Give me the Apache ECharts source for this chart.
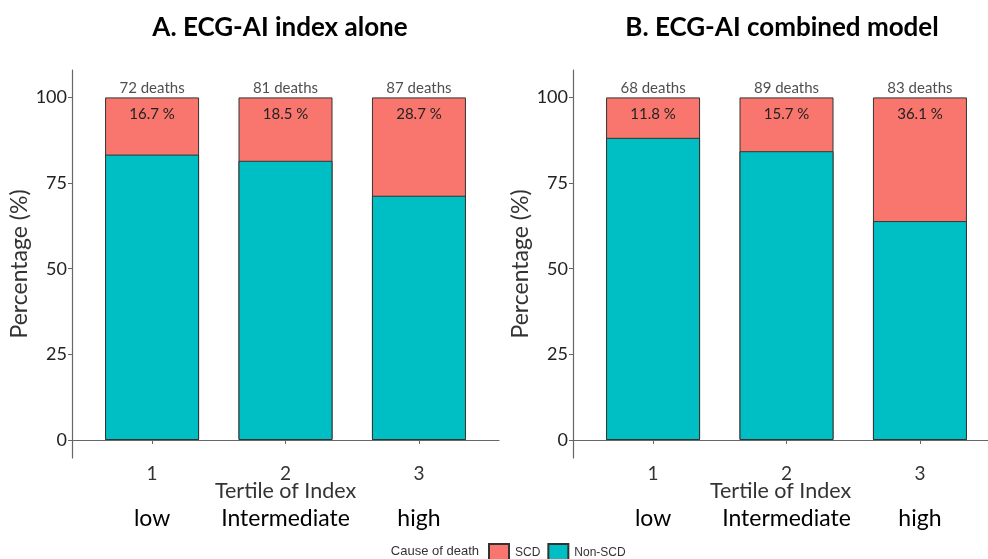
<!DOCTYPE html>
<html><head><meta charset="utf-8">
<script src="https://cdn.jsdelivr.net/npm/echarts@6/dist/echarts.min.js"></script>
<style>html,body{margin:0;padding:0;background:#fff}#c{width:988px;height:559px}</style>
</head><body><div id="c"></div>
<script>
const tertiles = [1, 2, 3];
const tierNames = ['low', 'Intermediate', 'high'];
const yTicks = [0, 25, 50, 75, 100];
const panelTitles = ['A. ECG-AI index alone', 'B. ECG-AI combined model'];
const scdA = [16.7, 18.5, 28.7];
const nonScdA = [83.3, 81.5, 71.3];
const deathsA = [72, 81, 87];
const scdB = [11.8, 15.7, 36.1];
const nonScdB = [88.2, 84.3, 63.9];
const deathsB = [68, 89, 83];

const FONT = 'Lato';
const RED = '#F8766D', TEAL = '#00BFC4';

function xy(vals) { return tertiles.map((t, i) => [t, vals[i]]); }

// right panel is cut by the page edge: its x range ends where the page ends
const panels = [
  { left: 72, width: 427, xmax: 3.6 },
  { left: 573, width: 415, xmax: 3.51 }
];
const grids = panels.map(pn => ({ left: pn.left, top: 70, width: pn.width, height: 388 }));

const xAxes = [], yAxes = [], series = [];
[[scdA, nonScdA, deathsA], [scdB, nonScdB, deathsB]].forEach((p, g) => {
  const scd = p[0], non = p[1], deaths = p[2];
  const total = scd.map((v, i) => v + non[i]);
  const xmax = panels[g].xmax;
  xAxes.push({
    type: 'value', gridIndex: g, min: 0.4, max: xmax, position: 'bottom',
    name: 'Tertile of Index', nameLocation: 'middle', nameGap: 22, nameMoveOverlap: false,
    nameTextStyle: { fontFamily: FONT, fontSize: 21.5, color: '#333' },
    axisLine: { show: true, lineStyle: { color: '#666', width: 1.2 } },
    axisTick: { show: true, length: 4, customValues: tertiles, lineStyle: { color: '#666' } },
    axisLabel: { customValues: tertiles, margin: 6, fontFamily: FONT, fontSize: 19, color: '#333' },
    splitLine: { show: false }
  });
  xAxes.push({
    type: 'value', gridIndex: g, min: 0.4, max: xmax, position: 'bottom', offset: 0,
    axisLine: { show: false }, axisTick: { show: false }, splitLine: { show: false },
    axisLabel: { customValues: tertiles, margin: 49, fontFamily: FONT, fontSize: 23, color: '#000',
      formatter: v => tierNames[Math.round(v) - 1] }
  });
  yAxes.push({
    type: 'value', gridIndex: g, min: -5.25, max: 108,
    name: 'Percentage (%)', nameLocation: 'middle', nameGap: 41, nameMoveOverlap: false,
    nameTextStyle: { fontFamily: FONT, fontSize: 23, color: '#333' },
    axisLine: { show: true, lineStyle: { color: '#666', width: 1.2 } },
    axisTick: { show: true, length: 4, customValues: yTicks, lineStyle: { color: '#666' } },
    axisLabel: { customValues: yTicks, margin: 5, fontFamily: FONT, fontSize: 18, color: '#222' },
    splitLine: { show: false }
  });
  const xi = g * 2;
  // SCD segment: drawn as the full stacked column, Non-SCD drawn over its lower part
  series.push({
    name: 'SCD', type: 'bar', xAxisIndex: xi, yAxisIndex: g,
    barWidth: 94, barGap: '-100%', data: xy(total),
    itemStyle: { color: RED, borderColor: '#333', borderWidth: 1 },
    label: { show: true, position: 'insideTop', distance: 9, fontFamily: FONT, fontSize: 15, color: '#222',
      formatter: pr => scd[pr.dataIndex].toFixed(1) + ' %' }
  });
  series.push({
    name: 'Non-SCD', type: 'bar', xAxisIndex: xi, yAxisIndex: g,
    barWidth: 94, barGap: '-100%', data: xy(non),
    itemStyle: { color: TEAL, borderColor: '#333', borderWidth: 1 }
  });
  series.push({
    name: 'deaths' + g, type: 'scatter', xAxisIndex: xi, yAxisIndex: g, symbolSize: 0,
    data: xy(total), silent: true,
    label: { show: true, position: 'top', distance: 2, fontFamily: FONT, fontSize: 15, color: '#222',
      formatter: pr => deaths[pr.dataIndex] + ' deaths' }
  });
});

const chart = echarts.init(document.getElementById('c'), null, { renderer: 'canvas' });
chart.setOption({
  animation: false,
  backgroundColor: '#fff',
  title: panelTitles.map((t, i) => ({
    text: t, left: [275, 777][i], top: 10, textAlign: 'center',
    textStyle: { fontFamily: FONT, fontSize: 26, fontWeight: 'bold', color: '#000' }
  })),
  grid: grids,
  xAxis: xAxes,
  yAxis: yAxes,
  series: series,
  legend: {
    data: ['SCD', 'Non-SCD'], left: 488, top: 543, padding: 0, icon: 'rect',
    itemWidth: 20, itemHeight: 18, itemGap: 7,
    textStyle: { fontFamily: 'Liberation Sans', fontSize: 12, color: '#333', padding: [0, 0, 0, 1] }
  },
  graphic: [{
    type: 'text', right: 988 - 479, top: 545,
    style: { text: 'Cause of death', fontFamily: 'Liberation Sans', fontSize: 13, fill: '#333', textAlign: 'right' }
  }]
});
</script></body></html>
